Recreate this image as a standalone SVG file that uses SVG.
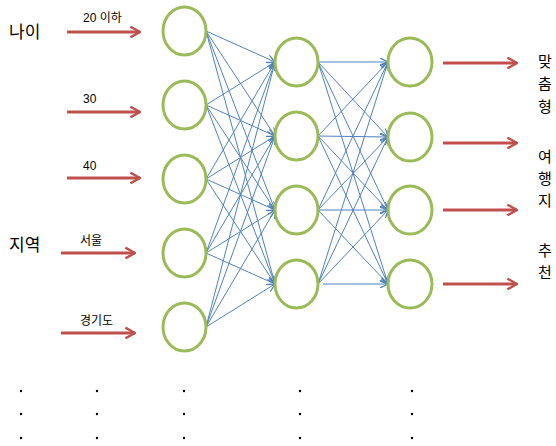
<svg xmlns="http://www.w3.org/2000/svg" width="556" height="446" viewBox="0 0 556 446">
<defs>
<marker id="ba" viewBox="0 0 10 10" refX="10" refY="5" markerWidth="8" markerHeight="8" markerUnits="userSpaceOnUse" orient="auto">
<path d="M0,0 L10,5 L0,10" fill="none" stroke="#4F81BD" stroke-width="1.5"/>
</marker>
<marker id="ra" viewBox="0 0 10 10" refX="9" refY="5" markerWidth="4" markerHeight="4" orient="auto">
<path d="M1,0.5 L9,5 L1,9.5" fill="none" stroke="#C0504D" stroke-width="2"/>
</marker>
<style>
.n{fill:#fff;stroke:#9BBB59;stroke-width:3}
.c line{stroke:#4F81BD;stroke-width:1;marker-end:url(#ba)}
.r line{stroke:#C0504D;stroke-width:3;marker-end:url(#ra)}
.s{font-family:"Liberation Sans","Noto Sans CJK KR",sans-serif;font-size:12px;fill:#000}
.b{font-family:"Noto Sans CJK KR",sans-serif;font-size:17px;fill:#000}
.v{font-family:"Noto Sans CJK KR",sans-serif;font-size:15px;fill:#000}
.d{fill:#000}
</style>
</defs>
<g id="connectors" class="c">
<line x1="206" y1="31" x2="275" y2="62"/><line x1="206" y1="31" x2="275" y2="136"/><line x1="206" y1="31" x2="275" y2="210"/><line x1="206" y1="31" x2="275" y2="284"/>
<line x1="206" y1="105" x2="275" y2="62"/><line x1="206" y1="105" x2="275" y2="136"/><line x1="206" y1="105" x2="275" y2="210"/><line x1="206" y1="105" x2="275" y2="284"/>
<line x1="206" y1="179" x2="275" y2="62"/><line x1="206" y1="179" x2="275" y2="136"/><line x1="206" y1="179" x2="275" y2="210"/><line x1="206" y1="179" x2="275" y2="284"/>
<line x1="206" y1="253" x2="275" y2="62"/><line x1="206" y1="253" x2="275" y2="136"/><line x1="206" y1="253" x2="275" y2="210"/><line x1="206" y1="253" x2="275" y2="284"/>
<line x1="206" y1="327" x2="275" y2="62"/><line x1="206" y1="327" x2="275" y2="136"/><line x1="206" y1="327" x2="275" y2="210"/><line x1="206" y1="327" x2="275" y2="284"/>
<line x1="318" y1="62" x2="388" y2="62"/><line x1="318" y1="62" x2="388" y2="137"/><line x1="318" y1="62" x2="388" y2="210"/><line x1="318" y1="62" x2="388" y2="284"/>
<line x1="318" y1="136" x2="388" y2="62"/><line x1="318" y1="136" x2="388" y2="137"/><line x1="318" y1="136" x2="388" y2="210"/><line x1="318" y1="136" x2="388" y2="284"/>
<line x1="318" y1="210" x2="388" y2="62"/><line x1="318" y1="210" x2="388" y2="137"/><line x1="318" y1="210" x2="388" y2="210"/><line x1="318" y1="210" x2="388" y2="284"/>
<line x1="318" y1="284" x2="388" y2="62"/><line x1="318" y1="284" x2="388" y2="137"/><line x1="318" y1="284" x2="388" y2="210"/><line x1="323" y1="284" x2="388" y2="284"/>
</g>
<g id="arrows" class="r">
<line x1="67" y1="32" x2="140" y2="32"/>
<line x1="67" y1="112" x2="140" y2="112"/>
<line x1="67" y1="178" x2="140" y2="178"/>
<line x1="61" y1="253" x2="135" y2="253"/>
<line x1="61" y1="333" x2="135" y2="333"/>
<line x1="443" y1="63" x2="517" y2="63"/>
<line x1="443" y1="143" x2="517" y2="143"/>
<line x1="443" y1="210" x2="517" y2="210"/>
<line x1="443" y1="284" x2="517" y2="284"/>
</g>
<g id="in1"><ellipse class="n" cx="184.5" cy="31" rx="21.5" ry="24"/></g>
<g id="in2"><ellipse class="n" cx="184.5" cy="105" rx="21.5" ry="24"/></g>
<g id="in3"><ellipse class="n" cx="184.5" cy="179" rx="21.5" ry="24"/></g>
<g id="in4"><ellipse class="n" cx="184.5" cy="253" rx="21.5" ry="24"/></g>
<g id="in5"><ellipse class="n" cx="184.5" cy="327" rx="21.5" ry="24"/></g>
<g id="h1"><ellipse class="n" cx="296.5" cy="62" rx="21.5" ry="24"/></g>
<g id="h2"><ellipse class="n" cx="296.5" cy="136" rx="21.5" ry="24"/></g>
<g id="h3"><ellipse class="n" cx="296.5" cy="210" rx="21.5" ry="24"/></g>
<g id="h4"><ellipse class="n" cx="296.5" cy="284" rx="21.5" ry="24"/></g>
<g id="o1"><ellipse class="n" cx="410" cy="62" rx="22" ry="24"/></g>
<g id="o2"><ellipse class="n" cx="410" cy="137" rx="22" ry="24"/></g>
<g id="o3"><ellipse class="n" cx="410" cy="210" rx="22" ry="24"/></g>
<g id="o4"><ellipse class="n" cx="410" cy="284" rx="22" ry="24"/></g>
<g id="labels">
<text class="b" x="9" y="38">나이</text>
<text class="b" x="9" y="251">지역</text>
<text class="s" x="83" y="22">20 이하</text>
<text class="s" x="83" y="103">30</text>
<text class="s" x="83" y="170">40</text>
<text class="s" x="80" y="245">서울</text>
<text class="s" x="80" y="325">경기도</text>
<text class="v" x="538" y="67">맞</text>
<text class="v" x="538" y="89">춤</text>
<text class="v" x="538" y="112">형</text>
<text class="v" x="538" y="162">여</text>
<text class="v" x="538" y="184">행</text>
<text class="v" x="538" y="206">지</text>
<text class="v" x="538" y="256">추</text>
<text class="v" x="538" y="278">천</text>
</g>
<g id="dots" class="d">
<circle cx="21" cy="391" r="1.2"/><circle cx="97" cy="391" r="1.2"/><circle cx="184" cy="391" r="1.2"/><circle cx="300" cy="391" r="1.2"/><circle cx="412" cy="391" r="1.2"/>
<circle cx="21" cy="414" r="1.2"/><circle cx="97" cy="414" r="1.2"/><circle cx="184" cy="414" r="1.2"/><circle cx="300" cy="414" r="1.2"/><circle cx="412" cy="414" r="1.2"/>
<circle cx="21" cy="438" r="1.2"/><circle cx="97" cy="438" r="1.2"/><circle cx="184" cy="438" r="1.2"/><circle cx="300" cy="438" r="1.2"/><circle cx="412" cy="438" r="1.2"/>
</g>
</svg>
